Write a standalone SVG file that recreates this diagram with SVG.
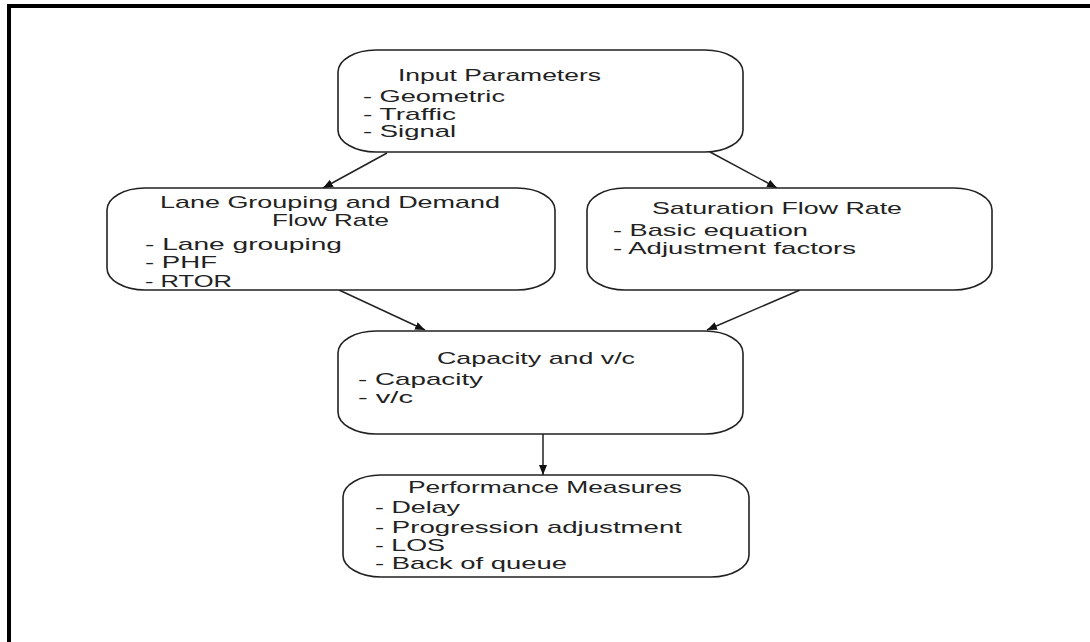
<svg xmlns="http://www.w3.org/2000/svg" width="1090" height="642" viewBox="0 0 1090 642">
<defs>
<marker id="ah" viewBox="0 0 10 10" refX="10" refY="5" markerWidth="10" markerHeight="10" markerUnits="userSpaceOnUse" orient="auto">
<path d="M0,1 L10,5 L0,9 Z" fill="#111"/>
</marker>
<style>
.box{fill:#fff;stroke:#222;stroke-width:1.6}
.t{font-family:"Liberation Sans",Arial,sans-serif;font-size:17px;fill:#222}
.c{stroke:#222;stroke-width:1.5;fill:none;marker-end:url(#ah)}
</style>
</defs>
<rect width="1090" height="642" fill="#fff"/>
<path d="M9,642 V6 H1090" fill="none" stroke="#000" stroke-width="4"/>
<g id="connectors">
<line class="c" x1="387" y1="153" x2="323" y2="188"/>
<line class="c" x1="710" y1="152" x2="777" y2="188"/>
<line class="c" x1="339" y1="290" x2="425" y2="330"/>
<line class="c" x1="800" y1="290" x2="707" y2="330"/>
<line class="c" x1="543" y1="434" x2="543" y2="475"/>
</g>
<g id="input">
<rect class="box" x="338" y="50" width="405" height="102" rx="38" ry="22"/>
<text class="t" x="398" y="81" textLength="203" lengthAdjust="spacingAndGlyphs">Input Parameters</text>
<text class="t" x="363" y="102" textLength="142" lengthAdjust="spacingAndGlyphs">- Geometric</text>
<text class="t" x="363" y="120" textLength="93" lengthAdjust="spacingAndGlyphs">- Traffic</text>
<text class="t" x="363" y="137" textLength="93" lengthAdjust="spacingAndGlyphs">- Signal</text>
</g>
<g id="lanegrouping">
<rect class="box" x="107" y="188" width="448" height="102" rx="38" ry="22"/>
<text class="t" x="160" y="208" textLength="340" lengthAdjust="spacingAndGlyphs">Lane Grouping and Demand</text>
<text class="t" x="272" y="226" textLength="117" lengthAdjust="spacingAndGlyphs">Flow Rate</text>
<text class="t" x="145" y="250" textLength="197" lengthAdjust="spacingAndGlyphs">- Lane grouping</text>
<text class="t" x="145" y="268" textLength="72" lengthAdjust="spacingAndGlyphs">- PHF</text>
<text class="t" x="145" y="287" textLength="87" lengthAdjust="spacingAndGlyphs">- RTOR</text>
</g>
<g id="saturation">
<rect class="box" x="587" y="188" width="405" height="102" rx="38" ry="22"/>
<text class="t" x="652" y="214" textLength="250" lengthAdjust="spacingAndGlyphs">Saturation Flow Rate</text>
<text class="t" x="613" y="236" textLength="195" lengthAdjust="spacingAndGlyphs">- Basic equation</text>
<text class="t" x="613" y="254" textLength="243" lengthAdjust="spacingAndGlyphs">- Adjustment factors</text>
</g>
<g id="capacity">
<rect class="box" x="338" y="331" width="405" height="103" rx="38" ry="22"/>
<text class="t" x="437" y="364" textLength="198" lengthAdjust="spacingAndGlyphs">Capacity and v/c</text>
<text class="t" x="358" y="385" textLength="125" lengthAdjust="spacingAndGlyphs">- Capacity</text>
<text class="t" x="358" y="403" textLength="55" lengthAdjust="spacingAndGlyphs">- v/c</text>
</g>
<g id="performance">
<rect class="box" x="343" y="475" width="406" height="102" rx="38" ry="22"/>
<text class="t" x="408" y="493" textLength="274" lengthAdjust="spacingAndGlyphs">Performance Measures</text>
<text class="t" x="375" y="513" textLength="85" lengthAdjust="spacingAndGlyphs">- Delay</text>
<text class="t" x="375" y="533" textLength="307" lengthAdjust="spacingAndGlyphs">- Progression adjustment</text>
<text class="t" x="375" y="551" textLength="70" lengthAdjust="spacingAndGlyphs">- LOS</text>
<text class="t" x="375" y="569" textLength="192" lengthAdjust="spacingAndGlyphs">- Back of queue</text>
</g>
</svg>
